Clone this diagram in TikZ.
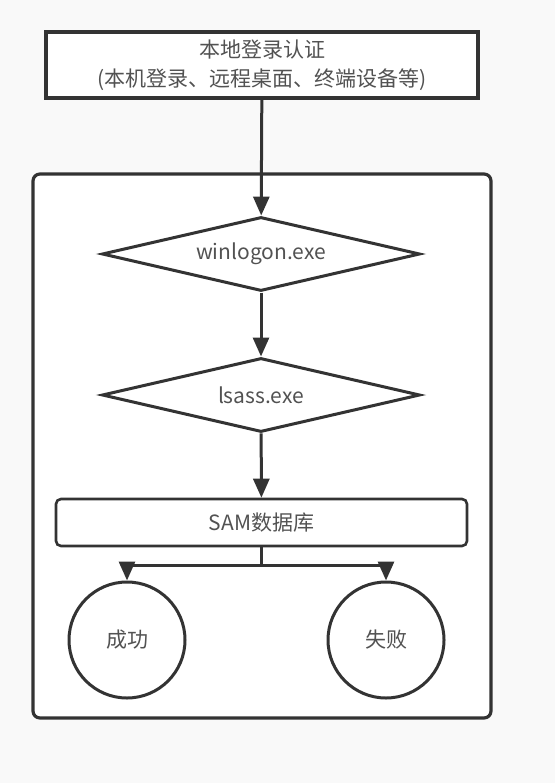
\documentclass[tikz,border=0pt]{standalone}
\usepackage{fontspec}
\setmainfont{Noto Sans CJK SC}
\usepackage{tikz}
\usetikzlibrary{arrows.meta,shapes.geometric}
\definecolor{LineGray}{HTML}{333333}
\definecolor{PageGray}{HTML}{F9F9F9}

\begin{document}
\begin{tikzpicture}[x=1pt,y=-1pt,line width=3pt,
  >={Triangle[length=19pt,width=16pt]},
  font=\fontsize{21}{29}\selectfont,text=LineGray!85,
  frame/.style={draw=LineGray,fill=white,line width=3.2pt},
  decision/.style={diamond,draw=LineGray,fill=white,inner sep=0pt,
    minimum width=318pt,minimum height=74pt,aspect=4.3},
  result/.style={circle,draw=LineGray,fill=white,minimum size=116pt,inner sep=0pt},
  flow/.style={draw=LineGray,->}]
\fill[PageGray] (0,0) rectangle (555,783);
\useasboundingbox (0,0) rectangle (555,783);
% outer container
\draw[frame,rounded corners=7pt] (33,174) rectangle (491,718);
% nodes
\node[frame,minimum width=432pt,minimum height=66pt,align=center] (login) at (262,65)
  {本地登录认证\\(本机登录、远程桌面、终端设备等)};
\node[decision] (winlogon) at (261,254) {winlogon.exe};
\node[decision] (lsass) at (261,395) {lsass.exe};
\node[draw=LineGray,fill=white,line width=2.6pt,rounded corners=5pt,
  minimum width=411pt,minimum height=47pt] (sam) at (261.5,522.5) {SAM数据库};
\node[result] (ok) at (127,640) {成功};
\node[result] (fail) at (386,640) {失败};
\coordinate (split) at (261.5,565);
% connectors
\draw[flow] (login) -- (winlogon);
\draw[flow] (winlogon) -- (lsass);
\draw[flow] (lsass) -- (sam);
\draw[draw=LineGray] (sam) -- (split);
\draw[flow] (split) -| (ok);
\draw[flow] (split) -| (fail);
\end{tikzpicture}
\end{document}
